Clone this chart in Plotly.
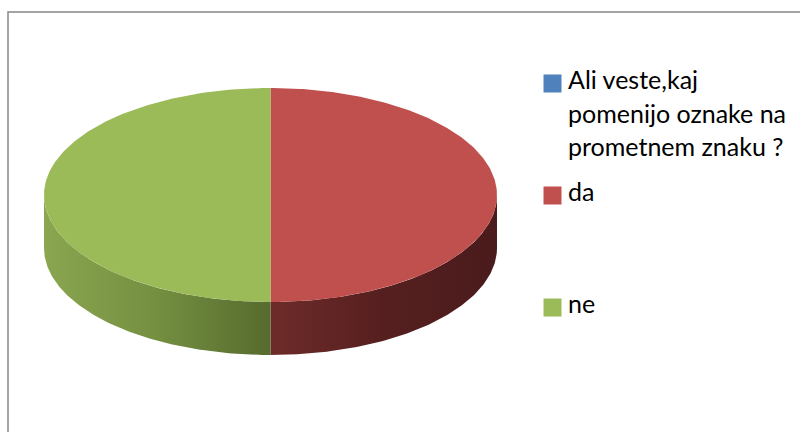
import numpy as np
import plotly.graph_objects as go

# Survey answers (share of respondents)
categories = ["Ali veste,kaj pomenijo oznake na prometnem znaku ?", "da", "ne"]
values = [0, 50, 50]
legend_lines = [["Ali veste,kaj", "pomenijo oznake na", "prometnem znaku ?"], ["da"], ["ne"]]

top_colors = ["#4F81BD", "#C0504D", "#9BBB59"]
side_scales = [
    [[0, "#2C4A6E"], [1, "#1E3450"]],
    [[0, "#6E2B2A"], [0.5, "#561F1F"], [1, "#4A1B1C"]],
    [[0, "#8AA650"], [0.5, "#748F40"], [1, "#566B2E"]],
]

# Pie geometry in pixel coordinates (y grows downward)
cx, cy = 270.5, 195.0
rx, ry = 226.5, 107.0
depth = 53.0


def pt(theta_deg, dy=0.0):
    t = np.radians(theta_deg)
    return cx + rx * np.sin(t), cy - ry * np.cos(t) + dy


fig = go.Figure()

total = float(sum(values))
start = 0.0
slices = []
for v in values:
    sweep = 360.0 * v / total
    slices.append((start, start + sweep))
    start += sweep

# side walls: only the front half (90..270 deg clockwise from top) is visible
for i, (a0, a1) in enumerate(slices):
    lo, hi = max(a0, 90.0), min(a1, 270.0)
    if hi <= lo:
        continue
    th = np.linspace(lo, hi, 120)
    xt, yt = pt(th)
    xb, yb = pt(th[::-1], depth)
    xs = np.concatenate([xt, xb, xt[:1]])
    ys = np.concatenate([yt, yb, yt[:1]])
    fig.add_trace(go.Scatter(
        x=xs, y=ys, mode="lines", fill="toself", line=dict(width=0),
        fillgradient=dict(type="horizontal", colorscale=side_scales[i],
                          start=float(xs.min()), stop=float(xs.max())),
        hoverinfo="skip", showlegend=False))

# top faces
for i, (a0, a1) in enumerate(slices):
    if a1 <= a0:
        continue
    th = np.linspace(a0, a1, 240)
    xt, yt = pt(th)
    xs = np.concatenate([[cx], xt, [cx]])
    ys = np.concatenate([[cy], yt, [cy]])
    fig.add_trace(go.Scatter(
        x=xs, y=ys, mode="lines", fill="toself", line=dict(width=0),
        fillcolor=top_colors[i], name=categories[i],
        hoverinfo="skip", showlegend=False))

# legend: colour squares and labels
marker_x = 552.5
text_x = 566
first_baselines = [90, 202, 314]
line_pitch = 33.5
sq_y = [b - 6.5 for b in first_baselines]
fig.add_trace(go.Scatter(
    x=[marker_x] * len(categories), y=sq_y, mode="markers",
    marker=dict(symbol="square", size=18, color=top_colors, line=dict(width=0)),
    hoverinfo="skip", showlegend=False))

annotations = []
for i, lines in enumerate(legend_lines):
    for j, line in enumerate(lines):
        annotations.append(dict(
            x=text_x, y=first_baselines[i] + j * line_pitch, xref="x", yref="y",
            text=line, showarrow=False, xanchor="left", yanchor="bottom",
            yshift=-6, font=dict(family="Lato", size=25, color="#000000")))

fig.update_layout(
    width=800, height=432, autosize=False,
    margin=dict(l=0, r=0, t=0, b=0),
    paper_bgcolor="white", plot_bgcolor="white",
    xaxis=dict(range=[0, 800], visible=False, fixedrange=True),
    yaxis=dict(range=[432, 0], visible=False, fixedrange=True),
    annotations=annotations,
    shapes=[dict(type="rect", xref="x", yref="y", x0=8, y0=12, x1=812, y1=450,
                 line=dict(color="#868686", width=1.5), layer="above")],
)

fig.write_html("out.html")
